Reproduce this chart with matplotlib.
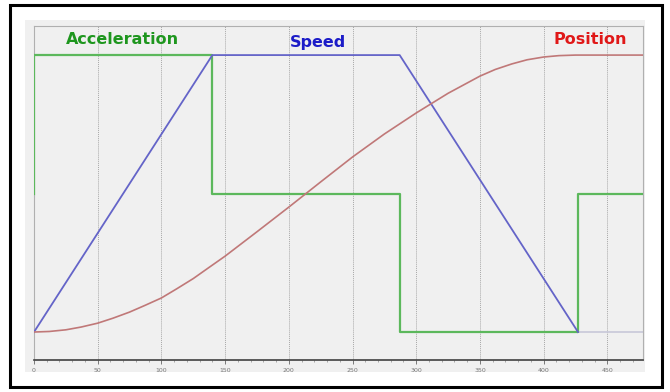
import matplotlib
matplotlib.use("Agg")
import matplotlib.pyplot as plt
from matplotlib.patches import Rectangle

# time axis and the three motion profiles (normalised 0..1)
accel_t = [0, 0, 140, 140, 287, 287, 427, 427, 478]
accel_v = [0, 1, 1, 0, 0, -1, -1, 0, 0]

speed_t = [0, 140, 287, 427]
speed_v = [0, 1, 1, 0]
speed_tail_t = [427, 478]
speed_tail_v = [0, 0]

pos_t = [0, 12, 25, 37, 50, 62, 75, 87, 100, 112, 125, 137, 150, 175, 200,
         225, 250, 275, 300, 325, 350, 362, 375, 387, 400, 412, 425, 478]
pos_v = [0.0, 0.002, 0.008, 0.018, 0.032, 0.050, 0.072, 0.096, 0.123, 0.156,
         0.193, 0.232, 0.274, 0.362, 0.451, 0.542, 0.632, 0.715, 0.791, 0.862,
         0.924, 0.948, 0.968, 0.983, 0.993, 0.998, 1.0, 1.0]

xticks = [0, 50, 100, 150, 200, 250, 300, 350, 400, 450]

fig = plt.figure(figsize=(6.7, 3.92), dpi=100)
fig.patch.set_facecolor("white")

# outer black frame and grey panel
fig.patches.append(Rectangle((10 / 670, 5 / 392), 652 / 670, 382 / 392,
                             transform=fig.transFigure, fill=False,
                             edgecolor="black", linewidth=2.2, zorder=-2))
fig.patches.append(Rectangle((25 / 670, 20 / 392), 620 / 670, 352 / 392,
                             transform=fig.transFigure, facecolor="#f0f0f0",
                             edgecolor="none", zorder=-2))

ax = fig.add_axes([34 / 670, 32 / 392, 609 / 670, 334 / 392])
ax.set_zorder(1)
ax.set_facecolor("#f0f0f0")
ax.set_xlim(0, 478)
ax.set_ylim(-0.101, 1.105)

# acceleration drawn around the middle level
acc_y = [0.5 + 0.5 * a for a in accel_v]
ax.plot(accel_t, acc_y, color="#5cb85c", linewidth=1.6, zorder=3)
ax.plot(speed_t, speed_v, color="#6464c8", linewidth=1.3, zorder=4)
ax.plot(speed_tail_t, speed_tail_v, color="#c8c8d8", linewidth=1.2, zorder=2)
ax.plot(pos_t, pos_v, color="#c07878", linewidth=1.2, zorder=4)

ax.set_xticks(xticks)
ax.set_xticklabels([str(t) for t in xticks], fontsize=4.5, color="#777777")
ax.set_xticks(range(0, 479, 10), minor=True)
ax.tick_params(axis="x", which="major", length=3, width=0.6, color="#666666", pad=3)
ax.tick_params(axis="x", which="minor", length=1.5, width=0.5, color="#888888")
ax.set_yticks([])
ax.grid(axis="x", which="major", linestyle=(0, (1, 1)), color="#a8a8a8", linewidth=0.7)

for side in ["left", "right", "top"]:
    ax.spines[side].set_color("#b0b0b0")
    ax.spines[side].set_linewidth(0.8)
ax.spines["bottom"].set_color("#404040")
ax.spines["bottom"].set_linewidth(1.2)

fig.text(122 / 670, 1 - 40 / 392, "Acceleration", color="#1e961e", fontsize=11.5,
         fontweight="bold", ha="center", va="center", zorder=5)
fig.text(318 / 670, 1 - 42 / 392, "Speed", color="#1c1cc8", fontsize=11.5,
         fontweight="bold", ha="center", va="center", zorder=5)
fig.text(627 / 670, 1 - 40 / 392, "Position", color="#e01818", fontsize=11.5,
         fontweight="bold", ha="right", va="center", zorder=5)

fig.savefig("out.png", dpi=100)
